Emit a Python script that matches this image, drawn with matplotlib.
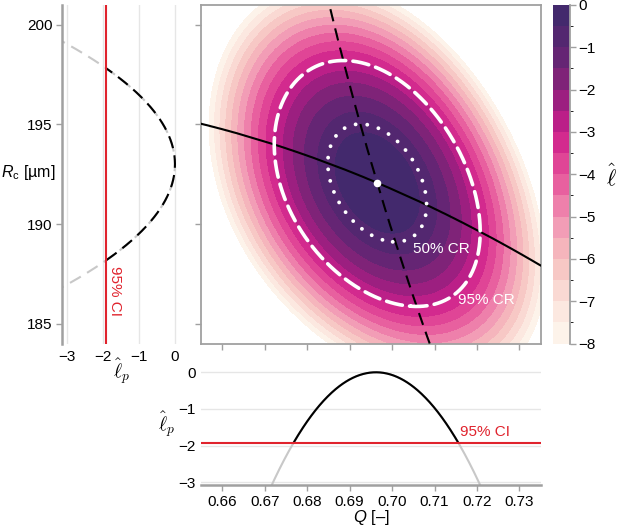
import numpy as np
import matplotlib
matplotlib.use("Agg")
import matplotlib.pyplot as plt
from matplotlib.colors import ListedColormap, BoundaryNorm

# ---------------- values ----------------
Q_hat = 0.6965          # maximum-likelihood estimate of Q
Rc_hat = 192.07         # maximum-likelihood estimate of Rc [µm]
sd_Q = 0.0099           # curvature (std) of log-likelihood along Q
sd_Rc = 2.52            # curvature (std) along Rc
rho = -0.355            # correlation between Q and Rc
bend = 455.0            # bending of the likelihood ridge [µm per Q^2]

prof_Q_center = 0.6962  # bottom profile peak
prof_Q_sd = 0.0099
prof_Rc_center = 193.0  # left profile peak
prof_Rc_sd = 2.47

ci_level = -1.92        # 95% CI threshold of profile likelihood
cr95_level = -3.0       # 95% region
cr50_level = -0.69      # 50% region

fill_levels = np.arange(-8.0, 0.001, 0.5)
band_colors = ["#fdf3ea", "#fce8e0", "#fad9d3", "#f7c8c5", "#f5b5bc", "#f29db6",
               "#ee80ab", "#e8609f", "#e04596", "#d32a8e", "#bb1f88", "#9c1f80",
               "#7f2378", "#652574", "#532770", "#43296d"]

Q_ticks = [0.66, 0.67, 0.68, 0.69, 0.70, 0.71, 0.72, 0.73]
Q_ticklabels = ["0.66", "0.67", "0.68", "0.69", "0.70", "0.71", "0.72", "0.73"]
Rc_ticks = [185, 190, 195, 200]
lp_ticks = [-3, -2, -1, 0]
cbar_ticks = [0, -1, -2, -3, -4, -5, -6, -7, -8]

Q_lim = (0.655, 0.735)
Rc_lim = (184.0, 201.0)
lpx_lim = (-3.12, 0.35)
lpy_lim = (-3.07, 0.25)

# ---------------- style ----------------
plt.rcParams["font.family"] = ["Liberation Sans", "DejaVu Sans"]
plt.rcParams["mathtext.fontset"] = "custom"
plt.rcParams["mathtext.rm"] = "Liberation Sans"
plt.rcParams["mathtext.it"] = "Liberation Sans:italic"
FS = 11
GRAY = "#a0a0a0"
LGRAY = "#c8c8c8"
GRID = "#e6e6e6"
RED = "#e0232d"

W, H = 617, 527
fig = plt.figure(figsize=(W / 100, H / 100), dpi=100)


def rect(x0, x1, y0, y1):
    return [x0 / W, 1 - y1 / H, (x1 - x0) / W, (y1 - y0) / H]


ax = fig.add_axes(rect(201, 540.7, 5, 343.5))
axl = fig.add_axes(rect(62.3, 187.6, 5, 343.5))
axb = fig.add_axes(rect(201, 540.7, 363.1, 485))
cax = fig.add_axes(rect(552.7, 570, 5, 343.5))


def loglik(Q, R):
    dq = (Q - Q_hat) / sd_Q
    g = (R - Rc_hat + bend * (Q - Q_hat) ** 2) / sd_Rc
    return -0.5 * (dq ** 2 - 2 * rho * dq * g + g ** 2) / (1 - rho ** 2)


# ---------------- main panel ----------------
qg = np.linspace(Q_lim[0], Q_lim[1], 600)
rg = np.linspace(Rc_lim[0], Rc_lim[1], 600)
QQ, RR = np.meshgrid(qg, rg)
L = loglik(QQ, RR)

cmap = ListedColormap(band_colors)
norm = BoundaryNorm(fill_levels, cmap.N)
cf = ax.contourf(QQ, RR, L, levels=fill_levels, cmap=cmap, norm=norm, zorder=1)

# profile paths (argmax of the surface)
q_fine = np.linspace(Q_lim[0], Q_lim[1], 4001)
r_fine = np.linspace(Rc_lim[0], Rc_lim[1], 4001)
q_line = np.linspace(Q_lim[0], Q_lim[1], 300)
r_best = np.array([r_fine[np.argmax(loglik(q, r_fine))] for q in q_line])
r_line = np.linspace(Rc_lim[0], Rc_lim[1], 300)
q_best = np.array([q_fine[np.argmax(loglik(q_fine, r))] for r in r_line])

ax.plot(q_line, r_best, color="black", lw=1.5, zorder=3)
ax.plot(q_best, r_line, color="black", lw=1.5, ls=(0, (6, 3.5)), zorder=3)

for lev, style, lw in [(cr95_level, (0, (4.5, 2.0)), 2.6),
                       (cr50_level, (0, (0.01, 3.0)), 2.8)]:
    cs = ax.contour(QQ, RR, L, levels=[lev])
    polys = cs.get_paths()[0].to_polygons(closed_only=False)
    cs.remove()
    for v in polys:
        ax.plot(v[:, 0], v[:, 1], color="white", lw=lw, ls=style,
                dash_capstyle="round", zorder=4)

ax.plot([Q_hat], [Rc_hat], "o", color="white", ms=5.5, mec="none", zorder=5)
ax.text(0.7049, 188.75, "50% CR", color="white", fontsize=FS, ha="left", va="center", zorder=6)
ax.text(0.7156, 186.16, "95% CR", color="white", fontsize=FS, ha="left", va="center", zorder=6)

ax.set_xlim(*Q_lim)
ax.set_ylim(*Rc_lim)
ax.set_xticks(Q_ticks)
ax.set_yticks(Rc_ticks)
ax.tick_params(labelbottom=False, labelleft=False, direction="out", length=4,
               width=1.0, color=GRAY)
for s in ax.spines.values():
    s.set_color(GRAY)
    s.set_linewidth(1.3)

# ---------------- colorbar ----------------
cb = fig.colorbar(cf, cax=cax, ticks=cbar_ticks)
cb.outline.set_visible(False)
cax.plot([1, 1], [0, 1], transform=cax.transAxes, color=GRAY, lw=1.3, clip_on=False)
cax.tick_params(direction="out", length=4, width=1.0, color=GRAY, labelsize=FS, pad=2)
fig.text(611.0 / W, 1 - 176.7 / H, r"$\hat{\ell}$", fontsize=16, ha="center", va="center",
         math_fontfamily="cm")

# ---------------- left profile (Rc) ----------------
r_prof = np.linspace(Rc_lim[0], Rc_lim[1], 500)
lp_r = -0.5 * ((r_prof - prof_Rc_center) / prof_Rc_sd) ** 2
inside = lp_r >= ci_level
axl.plot(lp_r, r_prof, color=LGRAY, lw=1.5, ls=(0, (6, 3.5)), zorder=2)
axl.plot(lp_r[inside], r_prof[inside], color="black", lw=1.5, ls=(0, (6, 3.5)), zorder=3)
axl.axvline(ci_level, color=RED, lw=1.5, zorder=4)
axl.text(ci_level + 0.07, 187.9, "95% CI", color=RED, fontsize=FS, rotation=270,
         ha="left", va="top", zorder=5)
axl.set_xlim(*lpx_lim)
axl.set_ylim(*Rc_lim)
axl.set_xticks(lp_ticks)
axl.set_yticks(Rc_ticks)
axl.grid(axis="x", color=GRID, lw=1.0, zorder=0)
axl.set_axisbelow(True)
for side in ["top", "right", "bottom"]:
    axl.spines[side].set_visible(False)
axl.spines["left"].set_color(GRAY)
axl.spines["left"].set_linewidth(1.8)
axl.tick_params(axis="y", direction="out", length=4, width=1.0, color=GRAY, labelsize=FS, pad=3)
axl.tick_params(axis="x", length=0, labelsize=FS, pad=5)
fig.text(1 / W, 1 - 172 / H, r"$R_{\mathrm{c}}$ [µm]", fontsize=FS + 0.5, ha="left", va="center")
fig.text(121.7 / W, 1 - 372 / H, r"$\hat{\ell}_p$", fontsize=14, ha="center", va="center",
         math_fontfamily="cm")

# ---------------- bottom profile (Q) ----------------
q_prof = np.linspace(Q_lim[0], Q_lim[1], 500)
lp_q = -0.5 * ((q_prof - prof_Q_center) / prof_Q_sd) ** 2
inside_q = lp_q >= ci_level
axb.plot(q_prof, lp_q, color=LGRAY, lw=1.5, zorder=2)
axb.plot(q_prof[inside_q], lp_q[inside_q], color="black", lw=1.5, zorder=3)
axb.axhline(ci_level, color=RED, lw=1.5, zorder=4)
axb.text(0.7161, ci_level + 0.1, "95% CI", color=RED, fontsize=FS, ha="left", va="bottom", zorder=5)
axb.set_xlim(*Q_lim)
axb.set_ylim(*lpy_lim)
axb.set_xticks(Q_ticks)
axb.set_xticklabels(Q_ticklabels)
axb.set_yticks(lp_ticks)
axb.grid(axis="y", color=GRID, lw=1.0, zorder=0)
axb.set_axisbelow(True)
for side in ["top", "right", "left"]:
    axb.spines[side].set_visible(False)
axb.spines["bottom"].set_color(GRAY)
axb.spines["bottom"].set_linewidth(1.8)
axb.tick_params(axis="x", direction="out", length=4, width=1.0, color=GRAY, labelsize=FS, pad=3)
axb.tick_params(axis="y", length=0, labelsize=FS, pad=4)
fig.text(166.7 / W, 1 - 425 / H, r"$\hat{\ell}_p$", fontsize=14, ha="center", va="center",
         math_fontfamily="cm")
fig.text(371 / W, 1 - 517.3 / H, r"$Q$ [–]", fontsize=FS + 1, ha="center", va="center")

fig.savefig("out.png", dpi=100)
